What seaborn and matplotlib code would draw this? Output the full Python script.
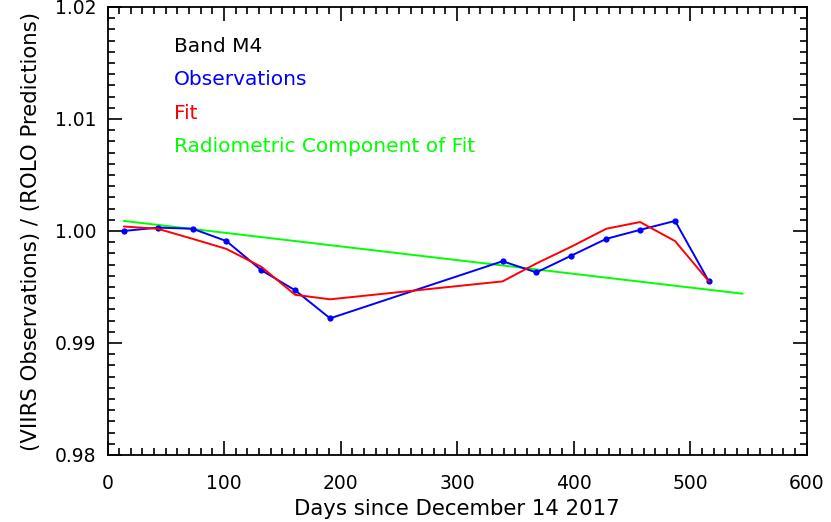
import matplotlib
matplotlib.use("Agg")
import matplotlib.pyplot as plt
import seaborn as sns
import pandas as pd
from matplotlib.ticker import MultipleLocator, FormatStrFormatter

obs_days = [14, 43, 73, 102, 132, 161, 191, 339, 368, 398, 428, 457, 487, 516]
obs_vals = [1.0000, 1.0003, 1.0002, 0.9991, 0.9965, 0.9947, 0.9922,
            0.9973, 0.9963, 0.9978, 0.9993, 1.0001, 1.0009, 0.9955]
fit_vals = [1.0004, 1.0002, 0.9993, 0.9984, 0.9968, 0.9943, 0.9939,
            0.9955, 0.9971, 0.9986, 1.0002, 1.0008, 0.9991, 0.9955]
rad_days = [14, 545]
rad_vals = [1.0009, 0.99440]

x_ticks = [0, 100, 200, 300, 400, 500, 600]
y_ticks = [0.98, 0.99, 1.00, 1.01, 1.02]

sns.set_theme(style="ticks")
plt.rcParams['font.family'] = ['DejaVu Sans']

fig = plt.figure(figsize=(8.31, 5.22), dpi=100)
ax = fig.add_axes([0.1294, 0.1284, 0.8414, 0.8582])

obs_df = pd.DataFrame({"day": obs_days, "val": obs_vals})
fit_df = pd.DataFrame({"day": obs_days, "val": fit_vals})
rad_df = pd.DataFrame({"day": rad_days, "val": rad_vals})

sns.lineplot(data=rad_df, x="day", y="val", color="#00ff00", lw=1.4, ax=ax)
sns.lineplot(data=obs_df, x="day", y="val", color="#0000ff", lw=1.4, marker="o",
             markersize=4.5, markeredgewidth=0, ax=ax)
sns.lineplot(data=fit_df, x="day", y="val", color="#ff0000", lw=1.4, ax=ax)

ax.set_xlim(0, 600)
ax.set_ylim(0.98, 1.02)
ax.set_xticks(x_ticks)
ax.set_yticks(y_ticks)
ax.yaxis.set_major_formatter(FormatStrFormatter('%.2f'))
ax.xaxis.set_minor_locator(MultipleLocator(10))
ax.yaxis.set_minor_locator(MultipleLocator(0.001))
ax.tick_params(which='both', direction='in', top=True, right=True, color='black', width=1.2)
ax.tick_params(which='major', length=10, labelsize=13.5, labelcolor='black')
ax.tick_params(axis='x', which='major', pad=14)
ax.tick_params(axis='y', which='major', pad=8)
ax.tick_params(which='minor', length=5)
for s in ax.spines.values():
    s.set_visible(True)
    s.set_color('black')
    s.set_linewidth(1.3)

ax.set_xlabel("Days since December 14 2017", fontsize=15.3, color='black', labelpad=4)
ax.set_ylabel("(VIIRS Observations) / (ROLO Predictions)", fontsize=15.3, color='black', labelpad=10)

labels = [("Band M4", "black", 1.0165), ("Observations", "#0000ff", 1.0135),
          ("Fit", "#ff0000", 1.0105), ("Radiometric Component of Fit", "#00ff00", 1.0075)]
for t, c, y in labels:
    ax.text(57, y, t, color=c, fontsize=14.5, va='center', ha='left')

fig.savefig("out.png", dpi=100)
